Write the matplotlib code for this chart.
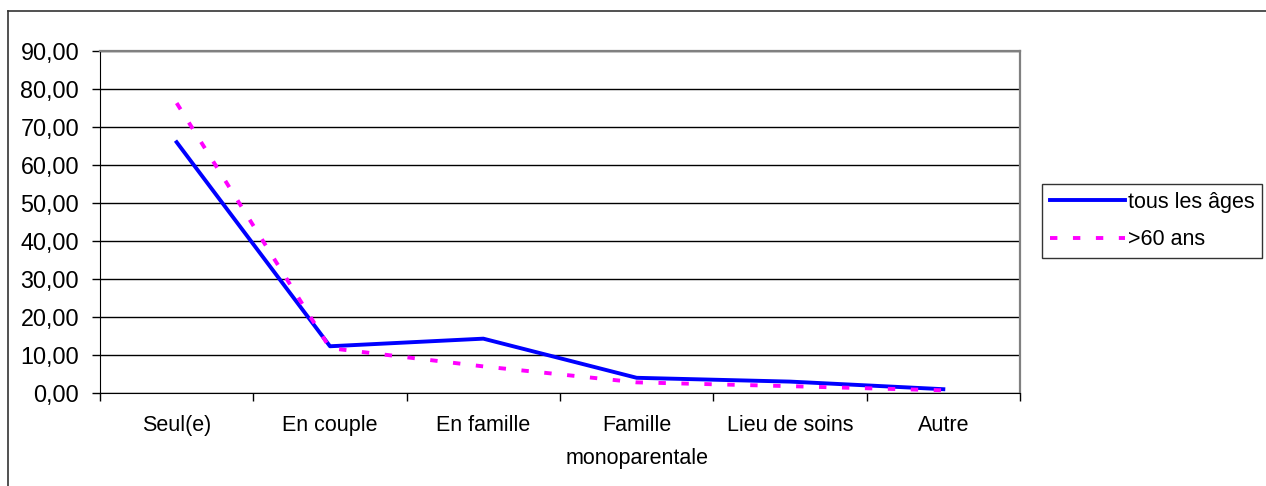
import matplotlib.pyplot as plt
from matplotlib.lines import Line2D
from matplotlib.ticker import FuncFormatter

categories = ["Seul(e)", "En couple", "En famille", "Famille\nmonoparentale", "Lieu de soins", "Autre"]
tous_les_ages = [66.0, 12.3, 14.3, 4.0, 3.0, 1.0]
plus_60_ans = [76.3, 11.8, 7.0, 2.8, 1.8, 0.7]
y_ticks = [0, 10, 20, 30, 40, 50, 60, 70, 80, 90]

plt.rcParams["font.family"] = ["Liberation Sans", "DejaVu Sans"]
plt.rcParams["font.size"] = 15.5

fig = plt.figure(figsize=(12.66, 4.86), dpi=100)
ax = fig.add_axes([100 / 1266, 1 - 393 / 486, 920 / 1266, 342 / 486])

x = list(range(len(categories)))
ax.plot(x, tous_les_ages, color="#0000FF", linewidth=2.8, label="tous les âges")
ax.plot(x, plus_60_ans, color="#FF00FF", linewidth=2.8, dashes=(1.9, 4.0), label=">60 ans")

ax.set_xlim(-0.5, len(categories) - 0.5)
ax.set_ylim(0, 90)
ax.set_yticks(y_ticks)
ax.yaxis.set_major_formatter(FuncFormatter(lambda v, p: f"{v:.2f}".replace(".", ",")))
ax.set_xticks([i - 0.5 for i in range(len(categories) + 1)])
ax.set_xticklabels([])
ax.set_xticks(x, minor=True)
ax.set_xticklabels(categories, minor=True, linespacing=1.75)
ax.tick_params(axis="x", which="minor", length=0, pad=16)
ax.tick_params(axis="x", which="major", length=6, width=1, color="black")
ax.tick_params(axis="y", length=6, width=1, pad=9, labelsize=16.8)

ax.grid(axis="y", color="black", linewidth=1)
ax.set_axisbelow(True)
ax.spines["left"].set_color("black")
ax.spines["bottom"].set_color("black")
ax.spines["top"].set_color("#808080")
ax.spines["right"].set_color("#808080")
ax.spines["right"].set_linewidth(1.6)
ax.spines["top"].set_linewidth(1.6)

leg = ax.legend(loc="center left", bbox_to_anchor=(1042 / 1266, 1 - 221 / 486),
                bbox_transform=fig.transFigure, frameon=True, fancybox=False,
                edgecolor="black", handlelength=3.5, handletextpad=0.15,
                borderpad=0.35, labelspacing=0.75, borderaxespad=0)
leg.get_frame().set_linewidth(1.0)

# outer chart frame (only top and left edges visible)
fig.add_artist(Line2D([8 / 1266, 1], [1 - 11 / 486, 1 - 11 / 486], color="#333333", linewidth=1.2))
fig.add_artist(Line2D([8 / 1266, 8 / 1266], [0, 1 - 11 / 486], color="#333333", linewidth=1.2))

fig.savefig("out.png", dpi=100)
